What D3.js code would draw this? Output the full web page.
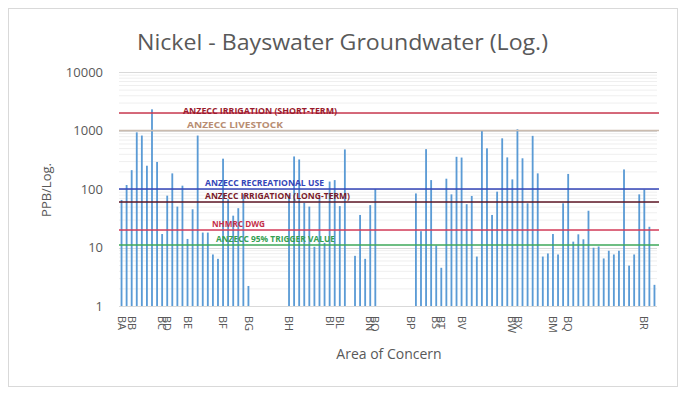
<!DOCTYPE html>
<html>
<head>
<meta charset="utf-8">
<script src="https://cdn.jsdelivr.net/npm/d3@7"></script>
<style>
    body { margin: 0; background: #fff; }
    svg { display: block; font-family: 'Open Sans', sans-serif; }
</style>
</head>
<body>
<svg width="694" height="418"></svg>
<script>
// Ni results, one slot per sample, null = no sample drawn
const values = [
    65, 117, 210, 930, 820, 250, 2300, 290, 17, 77,
    185, 50, 114, 14, 45, 820, 18, 18, 7.6, 6.4,
    330, 67, 35, 47, 81, 2.2,
    null, null, null, null, null, null, null,
    80, 360, 320, 58, 50, 10.3, 68, 12, 134, 142,
    51, 475, null, 7.2, 36, 6.4, 53, 100,
    null, null, null, null, null, null, null,
    84, 19, 480, 142, 10.8, 4.5, 150, 81, 355, 345,
    55, 76, 7, 1000, 496, 36, 90, 735, 347, 146,
    1050, 335, 57, 810, 185, 7, 7.9, 17, 7.6, 57,
    181, 12.6, 16.8, 13.8, 42.5, 9.9, 10.4, 6.5, 8.8, 7.6,
    8.8, 216, 4.9, 7.6, 81, 98, 22.6, 2.3
];

// area code and the sample slot where it is written
const areaCodes = ['BA', 'BB', 'BC', 'BD', 'BE', 'BF', 'BG', 'BH', 'BI', 'BL', 'BN', 'BO',
    'BP', 'BS', 'BT', 'BV', 'BW', 'BX', 'BM', 'BQ', 'BR'];
const areaStart = [0, 2, 8, 9, 13, 20, 25, 33, 41, 43, 49, 50,
    57, 62, 63, 67, 77, 78, 85, 88, 103];

const yTicks = [1, 10, 100, 1000, 10000];

const guideNames = ['ANZECC IRRIGATION (SHORT-TERM)', 'ANZECC LIVESTOCK', 'ANZECC RECREATIONAL USE',
    'ANZECC IRRIGATION (LONG-TERM)', 'NHMRC DWG', 'ANZECC 95% TRIGGER VALUE'];
const guideValues = [2000, 1000, 100, 60, 20, 11];

(() => {
    const svg = d3.select('svg');

    // look of the guideline labels
    const guideStyle = [
        {line: '#c8384f', text: '#9a1b2d', x: 183, w: 154, dy: 1},
        {line: '#cbbcaf', text: '#b88d72', x: 187, w: 96, dy: -3},
        {line: '#3446b8', text: '#3446b8', x: 205, w: 119, dy: -3},
        {line: '#5c1625', text: '#7a1a2a', x: 205, w: 145, dy: -3},
        {line: '#d43d5a', text: '#c4304a', x: 212, w: 53, dy: -3},
        {line: '#3ea85a', text: '#36a052', x: 216, w: 119, dy: -3}
    ];

    const slots = d3.range(values.length);

    const x = d3.scaleBand()
            .domain(slots)
            .range([119, 657])
            .paddingInner(0.64)
            .paddingOuter(0.32);

    const y = d3.scaleLog()
            .domain([1, 10000])
            .range([306, 72]);

    svg.append('rect')
            .attr('x', 8.5).attr('y', 8.5)
            .attr('width', 669).attr('height', 378)
            .attr('fill', '#fff')
            .attr('stroke', '#d9d9d9');

    svg.append('text')
            .attr('x', 137).attr('y', 50)
            .attr('font-size', 21)
            .attr('textLength', 411)
            .attr('lengthAdjust', 'spacingAndGlyphs')
            .attr('fill', '#595959')
            .text('Nickel - Bayswater Groundwater (Log.)');

    // minor + major gridlines
    const minor = [];
    yTicks.slice(0, -1).forEach(t => {
        d3.range(2, 10).forEach(m => minor.push(t * m));
    });

    svg.append('g')
            .selectAll('line')
            .data(minor)
            .enter().append('line')
            .attr('x1', 119).attr('x2', 657)
            .attr('y1', d => y(d) + 0.5).attr('y2', d => y(d) + 0.5)
            .attr('stroke', '#efefef');

    svg.append('g')
            .selectAll('line')
            .data(yTicks)
            .enter().append('line')
            .attr('x1', 119).attr('x2', 657)
            .attr('y1', d => Math.round(y(d)) + 0.5).attr('y2', d => Math.round(y(d)) + 0.5)
            .attr('stroke', '#d9d9d9');

    svg.append('g')
            .selectAll('text')
            .data(yTicks)
            .enter().append('text')
            .attr('x', 103)
            .attr('y', d => y(d))
            .attr('dy', '0.35em')
            .attr('text-anchor', 'end')
            .attr('font-size', 13)
            .attr('fill', '#595959')
            .text(d => d);

    svg.append('g')
            .selectAll('rect')
            .data(slots.filter(i => values[i] !== null))
            .enter().append('rect')
            .attr('x', i => x(i))
            .attr('width', x.bandwidth())
            .attr('y', i => y(values[i]))
            .attr('height', i => y(1) - y(values[i]))
            .attr('fill', '#5b9bd5');

    const guides = svg.append('g')
            .selectAll('g')
            .data(guideValues)
            .enter().append('g');

    guides.append('line')
            .attr('x1', 119).attr('x2', 659)
            .attr('y1', d => y(d)).attr('y2', d => y(d))
            .attr('stroke', (d, i) => guideStyle[i].line)
            .attr('stroke-width', 1.5);

    guides.append('text')
            .attr('x', (d, i) => guideStyle[i].x)
            .attr('y', (d, i) => y(d) + guideStyle[i].dy)
            .attr('font-size', 8)
            .attr('font-weight', 'bold')
            .attr('textLength', (d, i) => guideStyle[i].w)
            .attr('lengthAdjust', 'spacingAndGlyphs')
            .attr('fill', (d, i) => guideStyle[i].text)
            .text((d, i) => guideNames[i]);

    svg.append('g')
            .selectAll('text')
            .data(areaCodes)
            .enter().append('text')
            .attr('transform', (d, i) => `translate(${x(areaStart[i]) + x.bandwidth() / 2},316) rotate(90)`)
            .attr('dy', '0.35em')
            .attr('font-size', 11)
            .attr('fill', '#595959')
            .text(d => d);

    svg.append('text')
            .attr('transform', 'translate(51,190) rotate(-90)')
            .attr('text-anchor', 'middle')
            .attr('font-size', 13)
            .attr('fill', '#595959')
            .text('PPB/Log.');

    svg.append('text')
            .attr('x', 389).attr('y', 359)
            .attr('text-anchor', 'middle')
            .attr('font-size', 14)
            .attr('fill', '#595959')
            .text('Area of Concern');
})();
</script>
</body>
</html>
